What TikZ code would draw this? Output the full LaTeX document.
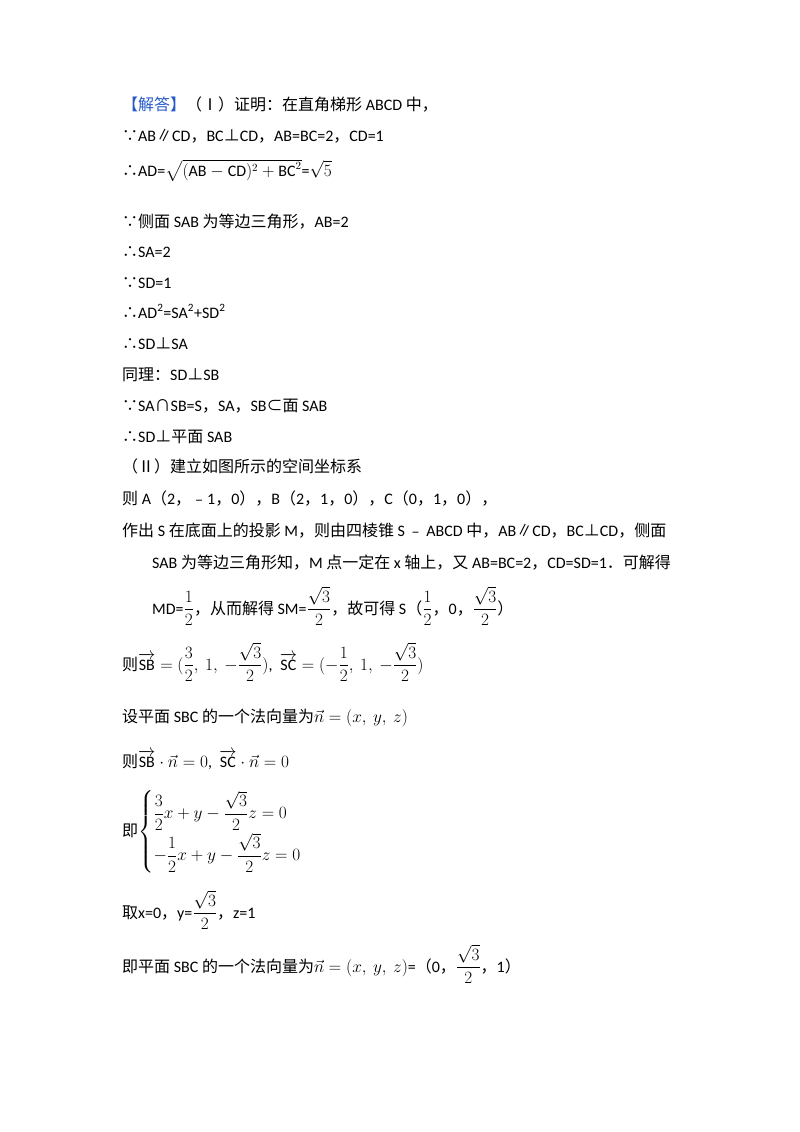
\documentclass[tikz,border=0pt]{standalone}
\usepackage{fontspec}
\usepackage{amsmath}
\setmainfont{Carlito}
\newfontfamily\cjk{Noto Sans CJK SC}
\newcommand{\C}[1]{{\cjk #1}}
\definecolor{ansblue}{RGB}{40,90,200}
\begin{document}
\begin{tikzpicture}[x=1pt,y=-1pt,
  ln/.style={anchor=base west,inner sep=0pt,font=\fontsize{16}{19}\selectfont}]
\useasboundingbox (0,0) rectangle (800,1132);
\node[ln] (l1) at (122,110) {\C{\textcolor{ansblue}{【解答】}（Ⅰ）证明：在直角梯形} ABCD \C{中，}};
\node[ln] (l2) at (122,141) {\C{∵}AB\C{∥}CD\C{，}BC\C{⊥}CD\C{，}AB=BC=2\C{，}CD=1};
\node[ln] (l3) at (122,176) {\C{∴}AD=$\sqrt{(\mathrm{AB}-\mathrm{CD})^2+\mathrm{BC}^2}$=$\sqrt{5}$};
\node[ln] (l4) at (122,227) {\C{∵侧面} SAB \C{为等边三角形，}AB=2};
\node[ln] (l5) at (122,257) {\C{∴}SA=2};
\node[ln] (l6) at (122,288) {\C{∵}SD=1};
\node[ln] (l7) at (122,318) {\C{∴}AD\textsuperscript{2}=SA\textsuperscript{2}+SD\textsuperscript{2}};
\node[ln] (l8) at (122,349) {\C{∴}SD\C{⊥}SA};
\node[ln] (l9) at (122,380) {\C{同理：}SD\C{⊥}SB};
\node[ln] (l10) at (122,411) {\C{∵}SA\C{∩}SB=S\C{，}SA\C{，}SB\C{⊂面} SAB};
\node[ln] (l11) at (122,442) {\C{∴}SD\C{⊥平面} SAB};
\node[ln] (l12) at (122,472) {\C{（Ⅱ）建立如图所示的空间坐标系}};
\node[ln] (l13) at (122,504) {\C{则} A\C{（}2\C{，﹣}1\C{，}0\C{），}B\C{（}2\C{，}1\C{，}0\C{），}C\C{（}0\C{，}1\C{，}0\C{），}};
\node[ln] (l14) at (122,536) {\C{作出} S \C{在底面上的投影} M\C{，则由四棱锥} S\,\C{﹣}\,ABCD \C{中，}AB\C{∥}CD\C{，}BC\C{⊥}CD\C{，侧面}};
\node[ln] (l15) at (152,568) {SAB \C{为等边三角形知，}M \C{点一定在} x \C{轴上，又} AB=BC=2\C{，}CD=SD=1\C{．可解得}};
\node[ln] (l16) at (152,614) {MD=$\dfrac12$\C{，从而解得} SM=$\dfrac{\sqrt3}{2}$\C{，故可得} S\C{（}$\dfrac12$\C{，}0\C{，}$\dfrac{\sqrt3}{2}$\C{）}};
\node[ln] (l17) at (122,670) {\C{则}$\overrightarrow{\mathrm{SB}}=(\dfrac32,\ 1,\ -\dfrac{\sqrt3}{2})$, \ $\overrightarrow{\mathrm{SC}}=(-\dfrac12,\ 1,\ -\dfrac{\sqrt3}{2})$};
\node[ln] (l18) at (122,722) {\C{设平面} SBC \C{的一个法向量为}$\vec{n}=(x,\ y,\ z)$};
\node[ln] (l19) at (122,767) {\C{则}$\overrightarrow{\mathrm{SB}}\cdot\vec n=0$, \ $\overrightarrow{\mathrm{SC}}\cdot\vec n=0$};
\node[ln] (l20) at (122,836) {\C{即}$\begin{cases}\dfrac32x+y-\dfrac{\sqrt3}{2}z=0\\[8pt] -\dfrac12x+y-\dfrac{\sqrt3}{2}z=0\end{cases}$};
\node[ln] (l21) at (122,918) {\C{取}x=0\C{，}y=$\dfrac{\sqrt3}{2}$\C{，}z=1};
\node[ln] (l22) at (122,972) {\C{即平面} SBC \C{的一个法向量为}$\vec n=(x,\ y,\ z)$=\C{（}0\C{，}$\dfrac{\sqrt3}{2}$\C{，}1\C{）}};
\end{tikzpicture}
\end{document}
